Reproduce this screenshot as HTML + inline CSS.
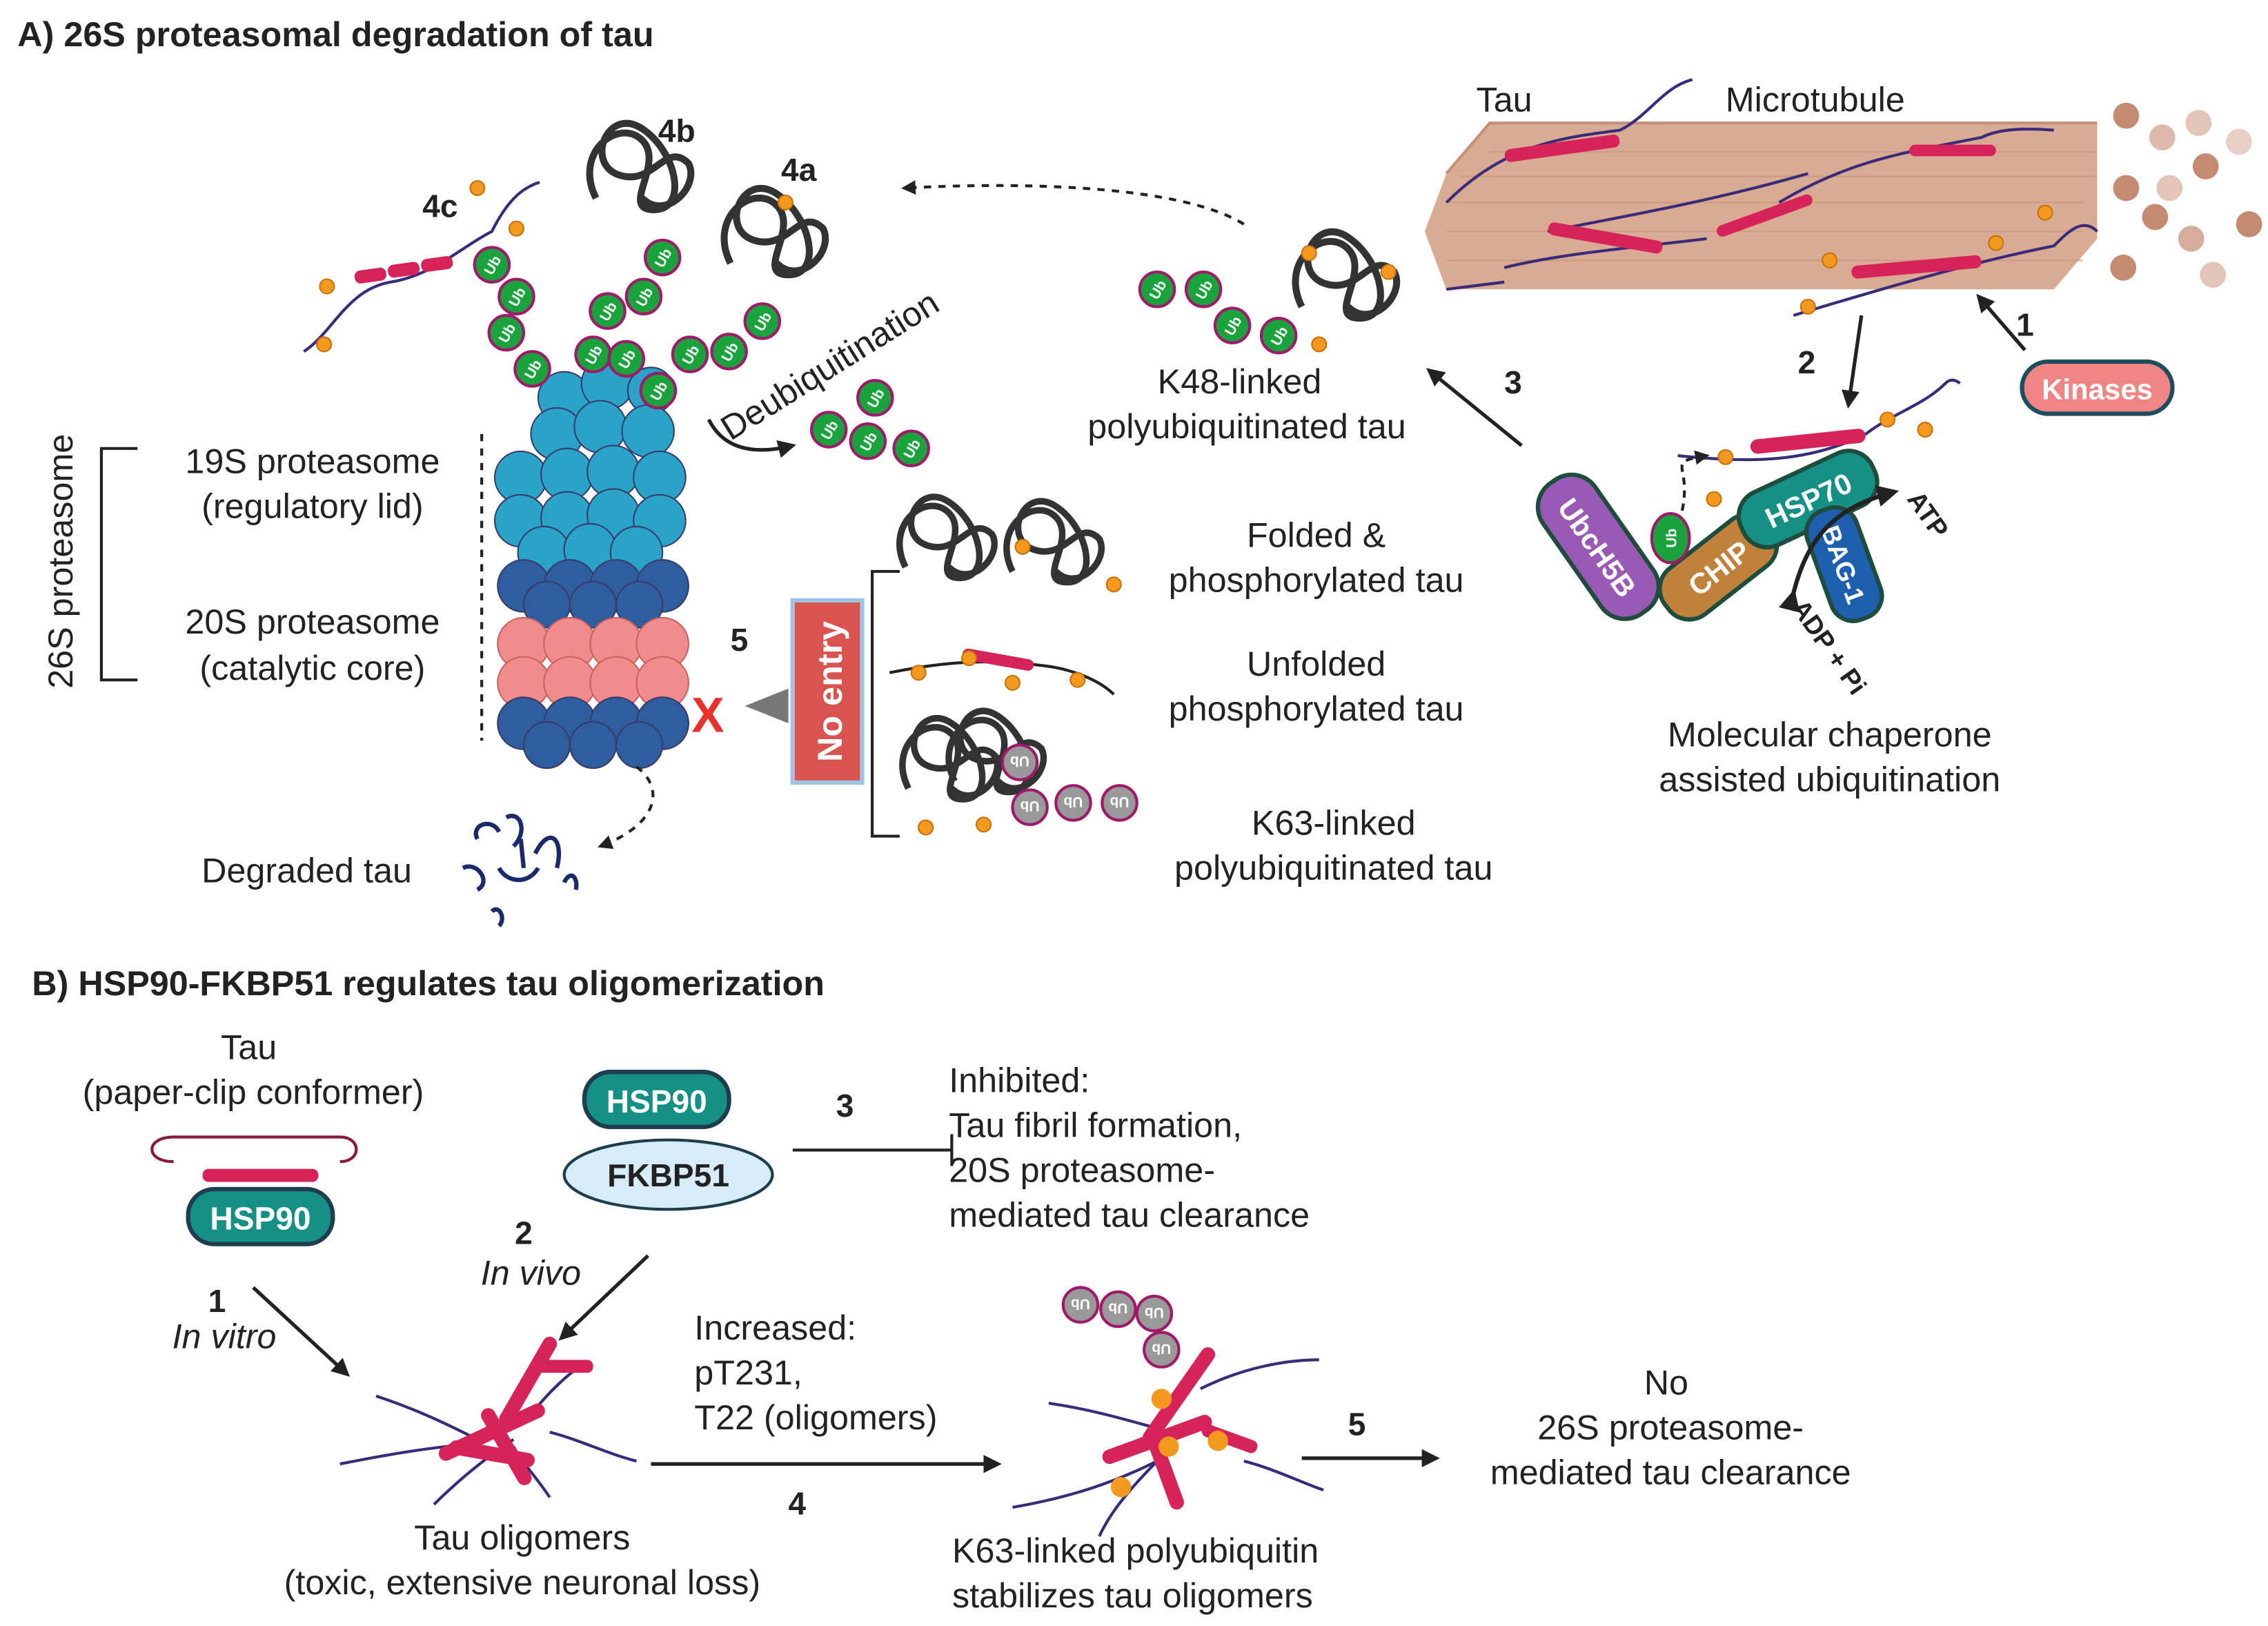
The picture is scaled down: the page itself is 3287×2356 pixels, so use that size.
<!DOCTYPE html>
<html><head><meta charset="utf-8">
<style>
html,body{margin:0;padding:0;background:#fff;}
svg{display:block;}
text{font-family:"Liberation Sans",Arial,sans-serif;fill:#222;}
.t{font-size:24px;}
.b{font-weight:bold;}
.ub{font-size:10px;font-weight:bold;fill:#fff;}
</style></head><body>
<svg width="3287" height="2356" viewBox="0 0 1568 1124" xmlns="http://www.w3.org/2000/svg">
<defs>
<marker id="ah" viewBox="0 0 10 10" refX="8" refY="5" markerWidth="5" markerHeight="5" orient="auto"><path d="M0,0L10,5L0,10z" fill="#222"/></marker>
<g id="ub"><circle r="12" fill="#1aa33c" stroke="#a0196a" stroke-width="2"/><text class="ub" text-anchor="middle" y="4" transform="rotate(-60)">Ub</text></g>
<g id="ubg"><circle r="12" fill="#999" stroke="#a0196a" stroke-width="2"/><text class="ub" text-anchor="middle" y="4" transform="rotate(180)">Ub</text></g>
<g id="pd"><circle r="5" fill="#f39a1e" stroke="#c8700a" stroke-width="1"/></g>
<g id="knot" fill="none" stroke="#333" stroke-width="3"><path d="M0,20 C-10,0 10,-15 20,-5 C30,5 10,25 25,25 C40,25 35,0 20,-10 C5,-20 -5,5 10,10 C25,15 30,-5 40,5 C45,15 30,30 20,20"/></g>
</defs>

<text x="12" y="32" class="b" font-size="24">A) 26S proteasomal degradation of tau</text>
<text x="22" y="688" class="b" font-size="24">B) HSP90-FKBP51 regulates tau oligomerization</text>

<text class="t" transform="translate(50,388) rotate(-90)" text-anchor="middle">26S proteasome</text>
<path d="M95,310 H70 V470 H95" fill="none" stroke="#222" stroke-width="2"/>
<text x="216" y="327" class="t" text-anchor="middle">19S proteasome</text>
<text x="216" y="358" class="t" text-anchor="middle">(regulatory lid)</text>
<text x="216" y="438" class="t" text-anchor="middle">20S proteasome</text>
<text x="216" y="470" class="t" text-anchor="middle">(catalytic core)</text>
<line x1="333" y1="300" x2="333" y2="512" stroke="#222" stroke-width="2" stroke-dasharray="5,5"/>

<g stroke="#3a3a6a" stroke-width="1">
<g fill="#29a3c8">
<circle cx="390" cy="275" r="18"/><circle cx="420" cy="265" r="18"/><circle cx="450" cy="270" r="16"/>
<circle cx="385" cy="300" r="18"/><circle cx="415" cy="295" r="18"/><circle cx="448" cy="298" r="18"/>
<circle cx="360" cy="330" r="18"/><circle cx="392" cy="328" r="18"/><circle cx="424" cy="326" r="18"/><circle cx="456" cy="330" r="18"/>
<circle cx="360" cy="360" r="18"/><circle cx="392" cy="358" r="18"/><circle cx="424" cy="356" r="18"/><circle cx="456" cy="360" r="18"/>
<circle cx="376" cy="382" r="18"/><circle cx="408" cy="380" r="18"/><circle cx="440" cy="382" r="18"/>
</g>
<g fill="#2f5e9e">
<circle cx="362" cy="405" r="18"/><circle cx="394" cy="405" r="18"/><circle cx="426" cy="405" r="18"/><circle cx="458" cy="405" r="18"/>
<circle cx="378" cy="418" r="16"/><circle cx="410" cy="418" r="16"/><circle cx="442" cy="418" r="16"/>
</g>
<g fill="#f28c8c" stroke="#c86060">
<circle cx="362" cy="445" r="18"/><circle cx="394" cy="445" r="18"/><circle cx="426" cy="445" r="18"/><circle cx="458" cy="445" r="18"/>
<circle cx="362" cy="472" r="18"/><circle cx="394" cy="472" r="18"/><circle cx="426" cy="472" r="18"/><circle cx="458" cy="472" r="18"/>
</g>
<g fill="#2f5e9e">
<circle cx="362" cy="500" r="18"/><circle cx="394" cy="500" r="18"/><circle cx="426" cy="500" r="18"/><circle cx="458" cy="500" r="18"/>
<circle cx="378" cy="515" r="16"/><circle cx="410" cy="515" r="16"/><circle cx="442" cy="515" r="16"/>
</g>
</g>

<text x="292" y="150" class="b" font-size="22">4c</text>
<path d="M210,243 C230,230 240,200 270,195 C300,190 320,170 340,160 C350,140 360,130 373,126" fill="none" stroke="#3a2a7a" stroke-width="2"/>
<g fill="#d6245a"><rect x="245" y="186" width="22" height="9" rx="4" transform="rotate(-8 256 190)"/><rect x="268" y="182" width="22" height="9" rx="4" transform="rotate(-8 279 186)"/><rect x="291" y="178" width="22" height="9" rx="4" transform="rotate(-8 302 182)"/></g>
<use href="#pd" x="224" y="238"/><use href="#pd" x="226" y="198"/><use href="#pd" x="330" y="130"/><use href="#pd" x="357" y="158"/>
<use href="#ub" x="340" y="183"/><use href="#ub" x="357" y="205"/><use href="#ub" x="350" y="230"/><use href="#ub" x="368" y="255"/>

<text x="455" y="98" class="b" font-size="22">4b</text>
<use href="#knot" transform="translate(412,105) scale(1.6)"/>
<use href="#ub" x="458" y="178"/><use href="#ub" x="445" y="205"/><use href="#ub" x="420" y="215"/><use href="#ub" x="410" y="245"/><use href="#ub" x="433" y="248"/>
<text x="540" y="125" class="b" font-size="22">4a</text>
<use href="#knot" transform="translate(505,150) scale(1.6)"/>
<use href="#pd" x="543" y="140"/>
<use href="#ub" x="527" y="222"/><use href="#ub" x="504" y="243"/><use href="#ub" x="477" y="245"/><use href="#ub" x="455" y="270"/>

<text class="t" transform="translate(505,305) rotate(-32)">Deubiquitination</text>
<path d="M490,290 C500,310 520,315 548,308" fill="none" stroke="#222" stroke-width="2.5" marker-end="url(#ah)"/>
<use href="#ub" x="573" y="297"/><use href="#ub" x="605" y="275"/><use href="#ub" x="600" y="305"/><use href="#ub" x="630" y="310"/>

<path d="M860,155 C820,130 720,125 625,130" fill="none" stroke="#222" stroke-width="2" stroke-dasharray="5,5" marker-end="url(#ah)"/>

<use href="#ub" x="800" y="200"/><use href="#ub" x="832" y="200"/><use href="#ub" x="852" y="225"/><use href="#ub" x="884" y="232"/>
<use href="#knot" transform="translate(900,180) scale(1.6)"/>
<use href="#pd" x="905" y="175"/><use href="#pd" x="960" y="188"/><use href="#pd" x="912" y="238"/>
<text x="857" y="272" class="t" text-anchor="middle">K48-linked</text>
<text x="862" y="303" class="t" text-anchor="middle">polyubiquitinated tau</text>

<line x1="1052" y1="308" x2="988" y2="256" stroke="#222" stroke-width="2.5" marker-end="url(#ah)"/>
<text x="1040" y="272" class="b" font-size="22">3</text>

<text x="1040" y="77" class="t" text-anchor="middle">Tau</text>
<text x="1255" y="77" class="t" text-anchor="middle">Microtubule</text>
<polygon points="1000,120 1030,85 1450,85 1450,165 1420,200 1000,200 985,160" fill="#d9ab93"/>
<path d="M1000,120 L1030,85 L1450,85" fill="none" stroke="#c59078" stroke-width="2"/>
<g stroke="#c9977c" stroke-width="1" opacity="0.7">
<line x1="1000" y1="140" x2="1440" y2="140"/><line x1="1000" y1="160" x2="1440" y2="160"/><line x1="1000" y1="180" x2="1440" y2="180"/><line x1="1030" y1="105" x2="1450" y2="105"/><line x1="1010" y1="122" x2="1450" y2="122"/>
</g>
<g fill="none" stroke="#3a2a7a" stroke-width="2">
<path d="M1000,140 C1040,100 1080,95 1120,90 C1140,80 1150,60 1170,55"/>
<path d="M1070,160 C1120,150 1180,140 1250,120"/>
<path d="M1230,140 C1280,110 1320,105 1370,95 C1380,90 1395,88 1420,90"/>
<path d="M1040,185 C1080,175 1140,170 1180,165"/>
<path d="M1240,218 C1300,200 1360,182 1420,170 C1430,160 1440,150 1450,160"/>
<path d="M1000,200 L1040,195"/>
</g>
<g fill="#d6245a">
<rect x="1040" y="98" width="80" height="9" rx="4" transform="rotate(-8 1080 102)"/>
<rect x="1185" y="145" width="70" height="8" rx="4" transform="rotate(-20 1220 149)"/>
<rect x="1320" y="100" width="60" height="8" rx="4"/>
<rect x="1070" y="160" width="80" height="9" rx="4" transform="rotate(10 1110 164)"/>
<rect x="1280" y="180" width="90" height="9" rx="4" transform="rotate(-5 1325 184)"/>
</g>
<use href="#pd" x="1265" y="180"/><use href="#pd" x="1250" y="212"/><use href="#pd" x="1380" y="168"/><use href="#pd" x="1414" y="147"/>
<g fill="#c58a72">
<circle cx="1470" cy="80" r="9"/><circle cx="1495" cy="95" r="9" opacity=".6"/><circle cx="1470" cy="130" r="9"/><circle cx="1500" cy="130" r="9" opacity=".5"/><circle cx="1525" cy="115" r="9"/><circle cx="1490" cy="150" r="9"/><circle cx="1515" cy="165" r="9" opacity=".7"/><circle cx="1555" cy="155" r="9"/><circle cx="1530" cy="190" r="9" opacity=".5"/><circle cx="1468" cy="185" r="9"/><circle cx="1520" cy="85" r="9" opacity=".5"/><circle cx="1548" cy="98" r="9" opacity=".4"/>
</g>

<line x1="1400" y1="242" x2="1368" y2="205" stroke="#222" stroke-width="2.5" marker-end="url(#ah)"/>
<text x="1394" y="232" class="b" font-size="22">1</text>
<rect x="1398" y="250" width="104" height="36" rx="18" fill="#f08585" stroke="#1e4d5e" stroke-width="3"/>
<text x="1450" y="276" class="b" font-size="20" text-anchor="middle" style="fill:#fff">Kinases</text>
<line x1="1287" y1="218" x2="1278" y2="280" stroke="#222" stroke-width="2.5" marker-end="url(#ah)"/>
<text x="1243" y="258" class="b" font-size="22">2</text>

<path d="M1160,315 C1210,320 1250,320 1290,300 C1310,285 1330,280 1345,265 C1350,260 1355,265 1355,265" fill="none" stroke="#3a2a7a" stroke-width="2"/>
<g fill="#d6245a"><rect x="1210" y="300" width="80" height="10" rx="5" transform="rotate(-6 1250 305)"/></g>
<use href="#pd" x="1193" y="316"/><use href="#pd" x="1305" y="290"/><use href="#pd" x="1331" y="297"/><use href="#pd" x="1185" y="345"/>
<path d="M1163,353 C1170,320 1150,320 1180,315" fill="none" stroke="#222" stroke-width="2" stroke-dasharray="5,4" marker-end="url(#ah)"/>
<g transform="translate(1105,378) rotate(55)"><rect x="-55" y="-22" width="110" height="44" rx="20" fill="#9b59b6" stroke="#1e4d3e" stroke-width="3"/><text x="0" y="8" class="b" font-size="20" text-anchor="middle" style="fill:#fff">UbcH5B</text></g>
<g transform="translate(1188,392) rotate(-38)"><rect x="-45" y="-20" width="90" height="40" rx="18" fill="#c0823a" stroke="#1e4d3e" stroke-width="3"/><text x="0" y="8" class="b" font-size="20" text-anchor="middle" style="fill:#fff">CHIP</text></g>
<g transform="translate(1250,345) rotate(-25)"><rect x="-50" y="-20" width="100" height="40" rx="18" fill="#169084" stroke="#1e4d3e" stroke-width="3"/><text x="0" y="8" class="b" font-size="20" text-anchor="middle" style="fill:#fff">HSP70</text></g>
<g transform="translate(1275,390) rotate(70)"><rect x="-40" y="-18" width="80" height="36" rx="16" fill="#1e5fb0" stroke="#1e4d3e" stroke-width="3"/><text x="0" y="7" class="b" font-size="18" text-anchor="middle" style="fill:#fff">BAG-1</text></g>
<g transform="translate(1155,372)"><ellipse rx="13" ry="17" fill="#1aa33c" stroke="#a0196a" stroke-width="2"/><text class="ub" font-size="12" text-anchor="middle" y="4" transform="rotate(-90)">Ub</text></g>
<path d="M1240,410 C1250,370 1270,350 1310,340" fill="none" stroke="#222" stroke-width="3" marker-end="url(#ah)" marker-start="url(#ah)"/>
<text class="b" font-size="18" transform="translate(1318,345) rotate(55)">ATP</text>
<text class="b" font-size="18" transform="translate(1238,420) rotate(55)">ADP + Pi</text>
<text x="1265" y="516" class="t" text-anchor="middle">Molecular chaperone</text>
<text x="1265" y="547" class="t" text-anchor="middle">assisted ubiquitination</text>

<rect x="548" y="415" width="48" height="126" fill="#d9534f" stroke="#9dc3e6" stroke-width="3"/>
<text class="b" font-size="24" transform="translate(582,478) rotate(-90)" text-anchor="middle" style="fill:#fff">No entry</text>
<polygon points="545,476 515,488 545,500" fill="#777"/>
<text x="478" y="506" class="b" font-size="34" style="fill:#e8312a">X</text>
<text x="505" y="450" class="b" font-size="22">5</text>
<path d="M622,395 H603 V578 H622" fill="none" stroke="#222" stroke-width="2"/>
<use href="#knot" transform="translate(626,362) scale(1.5)"/><use href="#knot" transform="translate(700,365) scale(1.5)"/>
<use href="#pd" x="707" y="378"/><use href="#pd" x="770" y="404"/>
<path d="M615,465 C650,458 680,455 720,460 C740,462 760,470 770,480" fill="none" stroke="#222" stroke-width="2"/>
<g fill="#d6245a"><rect x="665" y="452" width="50" height="8" rx="4" transform="rotate(10 690 456)"/></g>
<use href="#pd" x="670" y="455"/><use href="#pd" x="700" y="472"/><use href="#pd" x="745" y="470"/><use href="#pd" x="635" y="465"/>
<use href="#knot" transform="translate(628,515) scale(1.5)"/><use href="#knot" transform="translate(660,510) scale(1.5)"/>
<use href="#ubg" x="705" y="527"/><use href="#ubg" x="712" y="558"/><use href="#ubg" x="742" y="555"/><use href="#ubg" x="774" y="555"/>
<use href="#pd" x="640" y="572"/><use href="#pd" x="680" y="570"/>
<text x="910" y="378" class="t" text-anchor="middle">Folded &amp;</text>
<text x="910" y="409" class="t" text-anchor="middle">phosphorylated tau</text>
<text x="910" y="467" class="t" text-anchor="middle">Unfolded</text>
<text x="910" y="498" class="t" text-anchor="middle">phosphorylated tau</text>
<text x="922" y="577" class="t" text-anchor="middle">K63-linked</text>
<text x="922" y="608" class="t" text-anchor="middle">polyubiquitinated tau</text>

<path d="M440,530 C460,545 455,570 415,585" fill="none" stroke="#222" stroke-width="2" stroke-dasharray="5,5" marker-end="url(#ah)"/>
<text x="212" y="610" class="t" text-anchor="middle">Degraded tau</text>
<g fill="none" stroke="#1b2a6a" stroke-width="3">
<path d="M330,580 C325,570 340,565 345,575"/><path d="M350,565 C360,560 365,575 355,585"/><path d="M320,600 C330,595 340,610 330,615"/><path d="M370,590 C380,570 390,580 385,600"/><path d="M345,600 C350,610 365,612 372,600"/><path d="M390,610 C395,600 400,608 398,615"/><path d="M340,630 C345,625 350,635 345,640"/><path d="M360,580 L362,600"/>
</g>

<text x="172" y="732" class="t" text-anchor="middle">Tau</text>
<text x="175" y="763" class="t" text-anchor="middle">(paper-clip conformer)</text>
<path d="M120,803 C100,803 100,786 120,786 H235 C250,786 250,803 235,803" fill="none" stroke="#8b1a3a" stroke-width="2"/>
<g fill="#d6245a"><rect x="140" y="808" width="80" height="9" rx="4"/></g>
<rect x="130" y="822" width="100" height="38" rx="18" fill="#169084" stroke="#1e3d4e" stroke-width="3"/>
<text x="180" y="850" class="b" font-size="22" text-anchor="middle" style="fill:#fff">HSP90</text>
<text x="150" y="907" class="b" font-size="22" text-anchor="middle">1</text>
<text x="155" y="932" class="t" text-anchor="middle" font-style="italic">In vitro</text>
<line x1="175" y1="890" x2="240" y2="950" stroke="#222" stroke-width="2.5" marker-end="url(#ah)"/>

<rect x="404" y="741" width="100" height="38" rx="18" fill="#169084" stroke="#1e3d4e" stroke-width="3"/>
<text x="454" y="769" class="b" font-size="22" text-anchor="middle" style="fill:#fff">HSP90</text>
<ellipse cx="462" cy="812" rx="72" ry="24" fill="#d6ecf8" stroke="#1e3d4e" stroke-width="2"/>
<text x="462" y="820" class="b" font-size="22" text-anchor="middle">FKBP51</text>
<line x1="548" y1="795" x2="658" y2="795" stroke="#222" stroke-width="2"/>
<line x1="658" y1="784" x2="658" y2="806" stroke="#222" stroke-width="2"/>
<text x="578" y="772" class="b" font-size="22">3</text>
<text x="656" y="755" class="t">Inhibited:</text>
<text x="656" y="786" class="t">Tau fibril formation,</text>
<text x="656" y="817" class="t">20S proteasome-</text>
<text x="656" y="848" class="t">mediated tau clearance</text>
<text x="362" y="860" class="b" font-size="22" text-anchor="middle">2</text>
<text x="367" y="888" class="t" text-anchor="middle" font-style="italic">In vivo</text>
<line x1="448" y1="868" x2="388" y2="925" stroke="#222" stroke-width="2.5" marker-end="url(#ah)"/>

<g fill="none" stroke="#3a2a7a" stroke-width="2">
<path d="M260,965 C290,975 310,985 330,995"/><path d="M235,1012 C270,1005 300,1000 330,998"/><path d="M300,1040 C320,1020 340,1005 355,995"/><path d="M380,1035 C370,1020 360,1010 355,1000"/><path d="M400,945 C380,960 370,975 360,985"/><path d="M440,1010 C420,1005 400,995 380,990"/>
</g>
<g fill="#d6245a">
<rect x="300" y="985" width="80" height="10" rx="5" transform="rotate(-25 340 990)"/>
<rect x="330" y="950" width="70" height="10" rx="5" transform="rotate(-60 365 955)"/>
<rect x="320" y="995" width="60" height="10" rx="5" transform="rotate(60 350 1000)"/>
<rect x="310" y="1000" width="60" height="10" rx="5" transform="rotate(10 340 1005)"/>
<rect x="370" y="940" width="40" height="9" rx="4"/>
</g>
<text x="361" y="1071" class="t" text-anchor="middle">Tau oligomers</text>
<text x="361" y="1102" class="t" text-anchor="middle">(toxic, extensive neuronal loss)</text>

<text x="480" y="926" class="t">Increased:</text>
<text x="480" y="957" class="t">pT231,</text>
<text x="480" y="988" class="t">T22 (oligomers)</text>
<line x1="450" y1="1012" x2="690" y2="1012" stroke="#222" stroke-width="2.5" marker-end="url(#ah)"/>
<text x="545" y="1047" class="b" font-size="22">4</text>

<g fill="none" stroke="#3a2a7a" stroke-width="2">
<path d="M725,970 C760,975 790,985 810,990"/><path d="M700,1042 C740,1035 770,1025 800,1010"/><path d="M860,1010 C880,1015 900,1025 915,1030"/><path d="M830,960 C860,945 890,940 912,940"/><path d="M760,1062 C770,1040 790,1020 810,1000"/>
</g>
<g fill="#d6245a">
<rect x="775" y="960" width="80" height="10" rx="5" transform="rotate(-55 815 965)"/>
<rect x="760" y="990" width="80" height="10" rx="5" transform="rotate(-20 800 995)"/>
<rect x="775" y="1010" width="60" height="10" rx="5" transform="rotate(70 805 1015)"/>
<rect x="830" y="990" width="40" height="9" rx="4" transform="rotate(20 850 995)"/>
</g>
<circle cx="803" cy="967" r="7" fill="#f39a1e"/><circle cx="808" cy="1000" r="7" fill="#f39a1e"/><circle cx="775" cy="1028" r="7" fill="#f39a1e"/><circle cx="842" cy="996" r="7" fill="#f39a1e"/>
<use href="#ubg" x="747" y="902"/><use href="#ubg" x="773" y="905"/><use href="#ubg" x="798" y="908"/><use href="#ubg" x="803" y="933"/>
<text x="785" y="1080" class="t" text-anchor="middle">K63-linked polyubiquitin</text>
<text x="783" y="1111" class="t" text-anchor="middle">stabilizes tau oligomers</text>

<line x1="900" y1="1008" x2="993" y2="1008" stroke="#222" stroke-width="2.5" marker-end="url(#ah)"/>
<text x="932" y="992" class="b" font-size="22">5</text>
<text x="1152" y="964" class="t" text-anchor="middle">No</text>
<text x="1155" y="995" class="t" text-anchor="middle">26S proteasome-</text>
<text x="1155" y="1026" class="t" text-anchor="middle">mediated tau clearance</text>
</svg>
</body></html>
